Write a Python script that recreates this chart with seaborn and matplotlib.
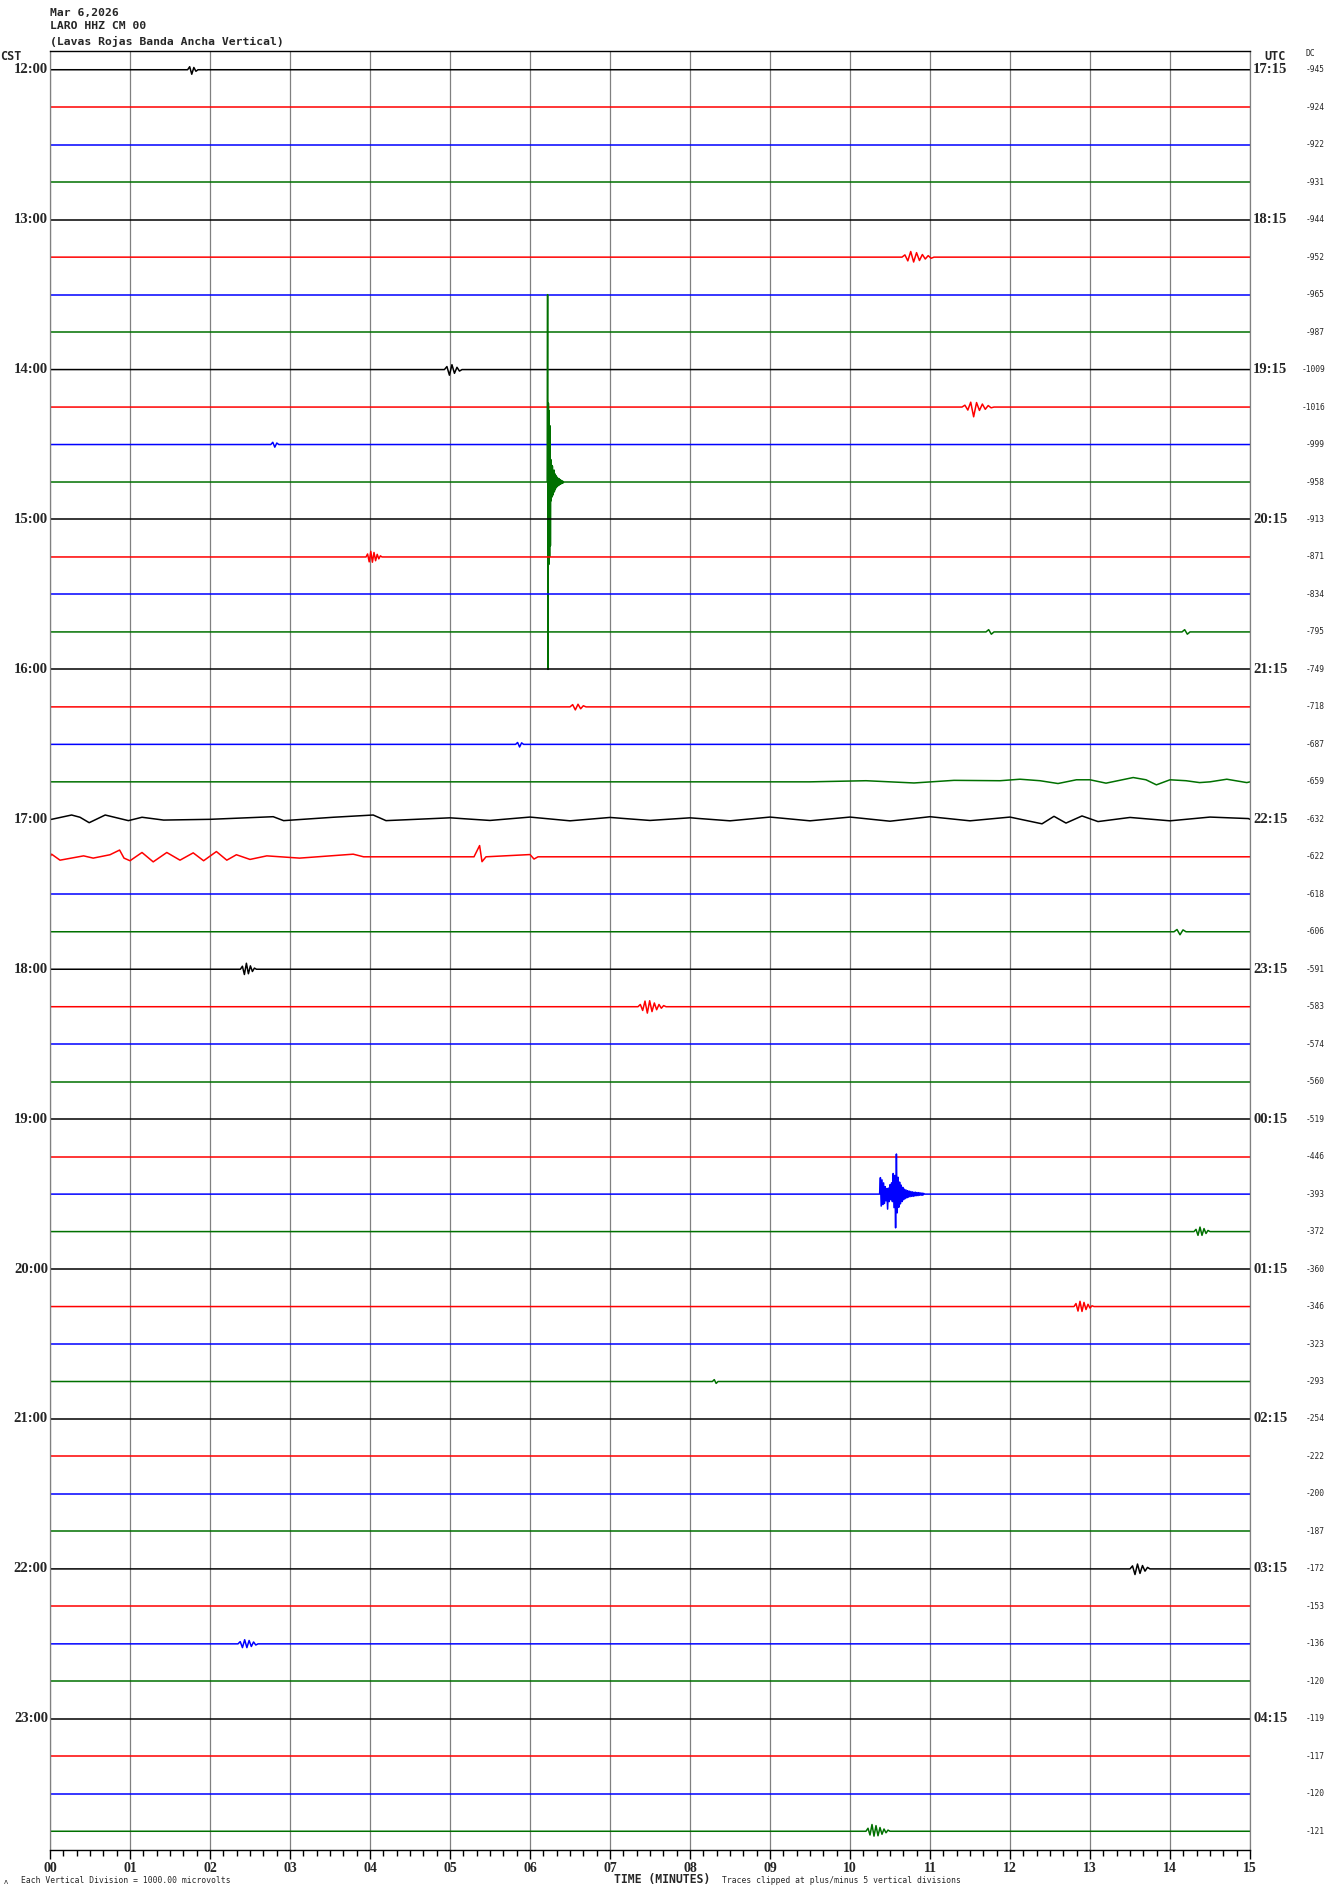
import numpy as np
import pandas as pd
import matplotlib
matplotlib.use("Agg")
import matplotlib.pyplot as plt
import matplotlib.transforms as mtransforms
from matplotlib.ticker import MultipleLocator
import seaborn as sns

# ---------------- data ----------------
TITLE_LINES = ["Mar 6,2026", "LARO HHZ CM 00", "(Lavas Rojas Banda Ancha Vertical)"]
N_ROWS = 48
CST_LABELS = ["12:00", "13:00", "14:00", "15:00", "16:00", "17:00",
              "18:00", "19:00", "20:00", "21:00", "22:00", "23:00"]
UTC_LABELS = ["17:15", "18:15", "19:15", "20:15", "21:15", "22:15",
              "23:15", "00:15", "01:15", "02:15", "03:15", "04:15"]
DC_VALUES = [-945, -924, -922, -931, -944, -952, -965, -987, -1009, -1016, -999, -958,
             -913, -871, -834, -795, -749, -718, -687, -659, -632, -622, -618, -606,
             -591, -583, -574, -560, -519, -446, -393, -372, -360, -346, -323, -293,
             -254, -222, -200, -187, -172, -153, -136, -120, -119, -117, -120, -121]
TRACE_COLORS = ["#000000", "#ff0000", "#0000ff", "#007000"]
MINUTE_LABELS = ["00", "01", "02", "03", "04", "05", "06", "07",
                 "08", "09", "10", "11", "12", "13", "14", "15"]
MICROVOLTS_PER_DIV = 1000.0
CLIP_DIVS = 5

# events: row, start minute, end minute, evenly spaced samples (microvolts)
EVENT_ROWS = [0, 5, 8, 9, 10, 11, 13, 15, 15, 17, 18, 23, 24, 25, 30, 31, 33, 35, 40, 42, 47]
EVENT_START = [1.72, 10.65, 4.93, 11.40, 2.76, 6.215, 3.95, 11.70, 14.15, 6.50, 5.82, 14.05,
               2.38, 7.35, 10.37, 14.30, 12.80, 8.28, 13.50, 2.35, 10.20]
EVENT_END = [1.85, 11.05, 5.15, 11.80, 2.86, 6.420, 4.15, 11.80, 14.25, 6.70, 5.92, 14.20,
             2.58, 7.70, 10.93, 14.50, 13.05, 8.35, 13.75, 2.60, 10.50]
EVENT_SAMPLES = [
    [0, 80, -120, 60, -40, 0],
    [0, 60, -100, 150, -130, 120, -90, 70, -50, 40, -30, 0],
    [0, 80, -150, 130, -100, 60, -40, 0],
    [0, 50, -80, 130, -260, 120, -90, 80, -60, 40, -20, 0],
    [0, 60, -70, 40, 0],
    [0, 5000, -5000, 2100, -2200, 1900, -2000, 1500, -1700, 600, -500, 450, -400, 420,
     -350, 300, -280, 320, -250, 220, -200, 180, -160, 150, -130, 120, -110, 100, -90,
     90, -80, 70, -60, 60, -50, 40, -40, 30, -30, 20, -20, 0],
    [0, 80, -130, 150, -140, 120, -100, 70, -50, 30, 0],
    [0, 60, -60, 0],
    [0, 60, -60, 0],
    [0, 60, -80, 70, -50, 30, 0],
    [0, 50, -70, 40, 0],
    [0, 60, -80, 50, 0],
    [0, 80, -140, 160, -120, 90, -60, 30, 0],
    [0, 60, -100, 150, -170, 160, -130, 100, -80, 60, -40, 30, 0],
    [0, 440, -320, 380, -280, 300, -250, 200, -180, 150, -400, 160, -200, 250, -150, 300,
     -200, 550, -360, 500, -900, 1070, -500, 450, -350, 320, -260, 240, -200, 180, -150,
     130, -120, 110, -100, 90, -80, 80, -70, 70, -60, 60, -60, 50, -50, 50, -40, 40, -40,
     40, -30, 30, -30, 30, -30, 20, 0],
    [0, 60, -100, 120, -100, 80, -50, 30, 0],
    [0, 80, -120, 140, -130, 110, -80, 60, -40, 20, 0],
    [0, 50, -50, 0],
    [0, 80, -150, 130, -120, 90, -60, 40, 0],
    [0, 60, -100, 110, -100, 90, -70, 50, -30, 0],
    [0, 80, -100, 180, -130, 150, -120, 100, -80, 60, -40, 30, 0],
]

# slow drifting rows: (minute, microvolts) pairs
DRIFT_ROW_19_MIN = [9.5, 10.2, 10.8, 11.3, 11.875, 12.125, 12.375, 12.6, 12.83, 13.0, 13.2,
                    13.54, 13.7, 13.83, 14.0, 14.2, 14.37, 14.5, 14.71, 14.96]
DRIFT_ROW_19_UV = [0, 30, -30, 40, 30, 70, 30, -45, 55, 55, -35, 115, 55, -80, 55, 30, -20,
                   0, 70, -20]
DRIFT_ROW_20_MIN = [0.02, 0.27, 0.375, 0.49, 0.69, 0.98, 1.15, 1.42, 2.0, 2.79, 2.92, 3.54,
                    4.04, 4.2, 5.0, 5.5, 6.0, 6.5, 7.0, 7.5, 8.0, 8.5, 9.0, 9.5, 10.0, 10.5,
                    11.0, 11.5, 12.0, 12.4, 12.55, 12.7, 12.9, 13.1, 13.5, 14.0, 14.5, 14.98]
DRIFT_ROW_20_UV = [0, 115, 55, -90, 115, -35, 55, -20, 0, 70, -35, 55, 115, -35, 40, -30,
                   60, -40, 50, -30, 40, -40, 60, -40, 60, -50, 70, -40, 60, -120, 80, -100,
                   90, -60, 50, -40, 60, 20]
DRIFT_ROW_21_MIN = [0.02, 0.125, 0.42, 0.54, 0.75, 0.87, 0.925, 1.0, 1.15, 1.29, 1.46, 1.625,
                    1.79, 1.92, 2.08, 2.21, 2.33, 2.5, 2.71, 3.12, 3.79, 3.92, 4.5, 5.3,
                    5.37, 5.40, 5.45, 6.0, 6.05, 6.1]
DRIFT_ROW_21_UV = [70, -90, 25, -35, 55, 180, -35, -105, 115, -135, 115, -90, 105, -105,
                   140, -90, 55, -70, 25, -35, 70, 0, 0, 0, 300, -130, 0, 60, -60, 0]
DRIFT_ROWS = [19, 20, 21]
DRIFT_MINUTES = [DRIFT_ROW_19_MIN, DRIFT_ROW_20_MIN, DRIFT_ROW_21_MIN]
DRIFT_UV = [DRIFT_ROW_19_UV, DRIFT_ROW_20_UV, DRIFT_ROW_21_UV]

# ---------------- build table ----------------
records = []
for r in range(N_ROWS):
    pts = [(0.0, 0.0), (15.0, 0.0)]
    for dr, dm, du in zip(DRIFT_ROWS, DRIFT_MINUTES, DRIFT_UV):
        if dr == r:
            pts += list(zip(dm, du))
    for er, es, ee, samp in zip(EVENT_ROWS, EVENT_START, EVENT_END, EVENT_SAMPLES):
        if er == r:
            xs = np.linspace(es, ee, len(samp))
            pts += list(zip(xs, samp))
    pts.sort(key=lambda p: p[0])
    for m, uv in pts:
        div = np.clip(uv / MICROVOLTS_PER_DIV, -CLIP_DIVS, CLIP_DIVS)
        records.append({"trace": f"t{r:02d}", "minute": m, "pos": r - div})
df = pd.DataFrame(records)
hue_order = [f"t{r:02d}" for r in range(N_ROWS)]
palette = {f"t{r:02d}": TRACE_COLORS[r % 4] for r in range(N_ROWS)}

# ---------------- figure ----------------
sns.set_theme(style="white")
plt.rcParams["font.family"] = ["DejaVu Sans"]
W, H = 1330, 1894
fig = plt.figure(figsize=(W / 100, H / 100), dpi=100)
fig.patch.set_facecolor("white")
L, R, T, B = 50, 1250, 51, 1850
ax = fig.add_axes([L / W, 1 - B / H, (R - L) / W, (B - T) / H])
ax.set_facecolor("white")

sns.lineplot(data=df, x="minute", y="pos", hue="trace", hue_order=hue_order,
             palette=palette, estimator=None, sort=False, legend=False,
             linewidth=1.1, ax=ax)

ax.set_xlim(0, 15)
ax.set_ylim(N_ROWS - 0.5, -0.5)
ax.set_xlabel("")
ax.set_ylabel("")
ax.set_yticks([])
ax.set_xticks(range(16))
ax.set_xticklabels(MINUTE_LABELS, fontfamily="Liberation Serif", fontweight="bold",
                   fontsize=10)
ax.xaxis.set_minor_locator(MultipleLocator(1 / 6))
ax.tick_params(axis="x", which="major", direction="out", length=6.5, width=1.0,
               color="black", pad=2, bottom=True)
ax.tick_params(axis="x", which="minor", direction="out", length=4.3, width=1.0,
               color="black", bottom=True)
ax.set_axisbelow(True)
ax.grid(axis="x", which="major", color="#808080", linewidth=0.9)
ax.grid(axis="y", visible=False)
for s in ["left", "right"]:
    ax.spines[s].set_color("#808080")
    ax.spines[s].set_linewidth(0.9)
for s in ["top", "bottom"]:
    ax.spines[s].set_color("black")
    ax.spines[s].set_linewidth(1.0)


def ftext(x, y, s, **kw):
    fig.text(x / W, 1 - y / H, s, **kw)


mono = "DejaVu Sans Mono"
for i, line in enumerate(TITLE_LINES):
    ftext(50, [13, 26, 41.5][i], line, family=mono, fontweight="bold", fontsize=8.2,
          va="center", ha="left")
ftext(0, 57, "CST", family=mono, fontweight="bold", fontsize=8.5, va="center", ha="left")
ftext(1264, 56, "UTC", family=mono, fontweight="bold", fontsize=8.5, va="center", ha="left")
ftext(1306, 54, "DC", family=mono, fontsize=5.8, va="center", ha="left")

trans_left = mtransforms.blended_transform_factory(fig.transFigure, ax.transData)
for k, lab in enumerate(CST_LABELS):
    fig.text(48 / W, k * 4, lab, transform=trans_left, family="Liberation Serif",
             fontweight="bold", fontsize=10.5, ha="right", va="center")
for k, lab in enumerate(UTC_LABELS):
    fig.text(1253 / W, k * 4, lab, transform=trans_left, family="Liberation Serif",
             fontweight="bold", fontsize=10.5, ha="left", va="center")
for r, dc in enumerate(DC_VALUES):
    fig.text(1325 / W, r, f"{dc}", transform=trans_left, family=mono, fontsize=5.7,
             ha="right", va="center")

ftext(20.7, 1880, "Each Vertical Division = 1000.00 microvolts", family=mono, fontsize=5.8,
      va="center", ha="left")
ftext(614, 1879, "TIME (MINUTES)", family=mono, fontweight="bold", fontsize=8.3,
      va="center", ha="left")
ftext(722, 1880, "Traces clipped at plus/minus 5 vertical divisions", family=mono,
      fontsize=5.8, va="center", ha="left")
ftext(4, 1882, "ᴧ", family="DejaVu Sans", fontsize=5, va="center", ha="left")

fig.savefig("out.png", dpi=100, facecolor="white")
